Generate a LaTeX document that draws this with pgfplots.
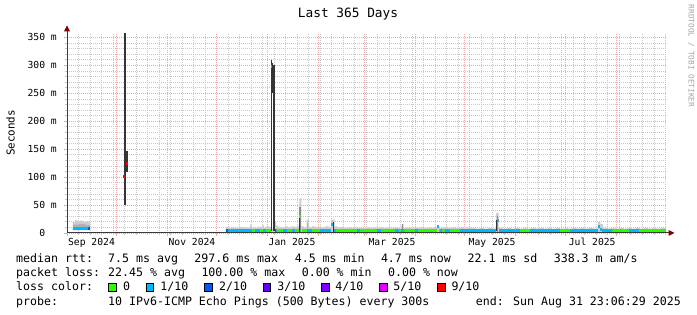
\documentclass[border=0pt]{standalone}
\usepackage{pgfplots}
\pgfplotsset{compat=1.18}
\usepackage{fontspec}
\setmainfont{DejaVu Sans Mono}
\definecolor{lc0}{HTML}{26FF00}
\definecolor{lc1}{HTML}{00B8FF}
\definecolor{lc2}{HTML}{0059FF}
\definecolor{lc3}{HTML}{5E00FF}
\definecolor{lc4}{HTML}{7E00FF}
\definecolor{lc5}{HTML}{DD00FF}
\definecolor{lc9}{HTML}{FF0000}
\definecolor{smokeL}{HTML}{CDCDCD}
\definecolor{smokeL2}{HTML}{B0B0B0}
\definecolor{smokeM}{HTML}{8C8C8C}
\definecolor{smokeD}{HTML}{353535}
\definecolor{mgrid}{HTML}{E8AAAA}
\definecolor{mingrid}{HTML}{C8C8C8}
\definecolor{arrowc}{HTML}{7F0000}
\definecolor{axisc}{HTML}{3A3A3A}
\newcommand\lf{\fontsize{11.6}{12}\selectfont}
\pgfplotsset{rrdframe/.style={
  at={(67pt,82pt)}, anchor=south west,
  scale only axis, width=600pt, height=200pt,
  xmin=0, xmax=365, ymin=0, ymax=358,
  axis lines*=left, axis line style={draw=none},
}}
\begin{document}
\begin{tikzpicture}
\useasboundingbox (0,0) rectangle (697pt,315pt);
% background: weekly minor grid
\begin{axis}[rrdframe,
  xtick={7,14,...,364}, xticklabels={},
  ytick=\empty,
  xmajorgrids=true,
  major grid style={mingrid, dash pattern=on 1pt off 1pt, line width=0.7pt},
  tick align=outside, major tick length=2pt,
  major tick style={mingrid, line width=0.7pt},
]
\end{axis}
\begin{axis}[rrdframe,
  unbounded coords=jump,
  xtick={0,30,61,91,122,153,181,212,242,273,303,334},
  xticklabels={},
  extra x ticks={14.9,76,136.9,197.7,258.6,319.5},
  extra x tick labels={Sep 2024,Nov 2024,Jan 2025,Mar 2025,May 2025,Jul 2025},
  extra x tick style={grid=none, major tick length=0pt},
  ytick={0,50,...,350},
  yticklabels={0\hphantom{ m},50 m,100 m,150 m,200 m,250 m,300 m,350 m},
  minor y tick num=4,
  xmajorgrids=true, ymajorgrids=true, yminorgrids=true,
  major grid style={mgrid, dash pattern=on 1pt off 1pt, line width=0.7pt},
  minor grid style={mingrid, dash pattern=on 1pt off 1pt, line width=0.7pt},
  tick align=outside,
  major tick length=3pt, minor tick length=2pt,
  major tick style={mgrid, line width=0.7pt},
  minor tick style={mingrid, line width=0.7pt},
  tick label style={font=\fontsize{9.7}{10}\selectfont},
  xticklabel style={anchor=north, inner sep=0pt, yshift=-5pt},
  yticklabel style={anchor=east, inner sep=0pt, xshift=-7pt},
]
% long segment smoke (upper edge of ping spread)
\addplot[const plot, fill=smokeL, draw=none] table {
x y
96.7 10
98.5 9
100.5 10
102.5 9
104.5 11
106.5 10
108.5 9
110.5 10
111.2 15
112.0 10
114.0 9
116.0 11
118.0 10
119.0 14
119.8 10
121.5 12
123.0 11
124.0 8
126.3 20
127.2 13
128.5 11
130.5 10
132.5 12
134.5 10
136.5 12
138.5 11
140.5 13
141.4 62
142.6 12
144.0 10
145.8 24
147.2 11
149.0 12
151.0 10
153.0 11
155.0 10
157.0 12
159.0 11
161.0 24
162.8 12
164.5 10
166.5 11
168.5 9
170.5 10
172.5 9
174.5 10
176.5 9
178.5 10
180.5 9
182.5 10
184.5 9
186.5 10
188.5 9
190.5 10
192.5 9
194.5 10
196.5 9
198.5 10
200.5 9
203.6 16
204.8 9
207.0 10
209.0 9
211.0 10
213.0 9
215.0 10
217.0 9
219.0 10
221.0 9
223.0 10
225.0 13
226.2 9
228.5 10
231.0 9
233.5 10
236.0 9
238.5 10
241.0 9
243.5 10
246.0 9
248.5 8
251.0 9
253.5 8
256.0 9
258.5 8
261.0 36
262.6 9
265.0 8
267.5 9
270.0 8
272.5 9
275.0 8
277.5 9
280.0 8
282.5 9
285.0 8
287.5 9
290.0 8
292.5 9
295.0 8
297.5 9
300.0 8
302.5 9
305.0 8
307.5 9
310.0 8
312.5 9
315.0 8
317.5 9
320.0 8
323.0 20
324.5 16
326.0 9
328.5 8
331.0 9
333.5 8
336.0 9
338.5 8
341.0 9
343.5 8
346.0 9
348.5 8
351.0 9
353.5 8
356.0 9
358.5 8
361.0 9
364.4 9
} \closedcycle;
% early segment smoke
\addplot[fill=smokeL, draw=none] coordinates {(3.5,5) (3.5,20) (5,20) (5,23) (6,23) (6,21) (8,21) (8,22) (10,22) (10,20) (12,20) (12,21) (14,21) (14,5)} -- cycle;
\addplot[fill=smokeL2, draw=none] coordinates {(3.5,5) (3.5,15) (7,15) (7,16) (11,16) (11,14) (14,14) (14,5)} -- cycle;
% spike A (early October, 9/10 loss)
\addplot[fill=smokeD, draw=none] coordinates {(34.6,50) (34.6,358) (35.9,358) (35.9,50)} -- cycle;
\addplot[fill=smokeD, draw=none] coordinates {(35.5,110) (35.5,147) (37.1,147) (37.1,110)} -- cycle;
% spike B (end of December)
\addplot[fill=smokeD, draw=none] coordinates {(123.9,3) (123.9,309) (124.9,309) (124.9,3)} -- cycle;
\addplot[fill=smokeD, draw=none] coordinates {(124.9,250) (124.9,305) (125.4,305) (125.4,250)} -- cycle;
\addplot[fill=smokeD, draw=none] coordinates {(125.4,3) (125.4,300) (126.4,300) (126.4,3)} -- cycle;
% spike C
\addplot[fill=smokeM, draw=none] coordinates {(141.4,0) (141.4,47) (142.6,47) (142.6,0)} -- cycle;
\addplot[fill=smokeD, draw=none] coordinates {(141.1,0) (141.1,30) (141.9,30) (141.9,0)} -- cycle;
% spike D
\addplot[fill=smokeL2, draw=none] coordinates {(146.0,0) (146.0,18) (146.8,18) (146.8,0)} -- cycle;
% spike E
\addplot[fill=smokeD, draw=none] coordinates {(161.6,0) (161.6,20) (162.3,20) (162.3,0)} -- cycle;
% spike F
\addplot[fill=smokeM, draw=none] coordinates {(203.6,0) (203.6,16) (204.6,16) (204.6,0)} -- cycle;
% spike H
\addplot[fill=smokeM, draw=none] coordinates {(261.3,0) (261.3,30) (262.4,30) (262.4,0)} -- cycle;
\addplot[fill=smokeD, draw=none] coordinates {(260.7,3) (260.7,24) (261.4,24) (261.4,3)} -- cycle;
% median rtt, colored by loss
\addplot[lc0, line width=3pt] coordinates {
(96.7,4.5) (123.9,4.5) (123.9,nan)
(126.4,4.5) (141.1,4.5) (141.1,nan)
(142.7,4.5) (160.9,4.5) (160.9,nan)
(162.6,4.5) (225.0,4.5) (225.0,nan)
(226.3,4.5) (260.7,4.5) (260.7,nan)
(262.6,4.5) (323.0,4.5) (323.0,nan)
(325.5,4.5) (364.4,4.5)
(364.4,nan) (141.2,29) (142.4,29)
};
\addplot[lc1, line width=3pt] coordinates {
(3.8,7.5) (13.0,7.5) (13.0,nan)
(96.7,4.5) (112.4,4.5) (112.4,nan)
(114.4,4.5) (117.4,4.5) (117.4,nan)
(119.1,4.5) (121.1,4.5) (121.1,nan)
(124.0,297.6) (125.0,297.6) (125.0,nan)
(126.8,4.5) (127.9,4.5) (127.9,nan)
(131.6,4.5) (133.7,4.5) (133.7,nan)
(136.7,4.5) (138.7,4.5) (138.7,nan)
(146.2,4.5) (148.9,4.5) (148.9,nan)
(153.9,4.5) (160.9,4.5) (160.9,nan)
(160.9,16) (161.9,16) (161.9,nan)
(162.6,4.5) (163.6,4.5) (163.6,nan)
(176.4,4.5) (178.2,4.5) (178.2,nan)
(188.6,4.5) (191.0,4.5) (191.0,nan)
(199.5,4.5) (202.0,4.5) (202.0,nan)
(203.2,4.5) (205.0,4.5) (205.0,nan)
(211.7,4.5) (213.5,4.5) (213.5,nan)
(225.1,11) (226.3,11) (226.3,nan)
(227.0,4.5) (228.1,4.5) (228.1,nan)
(230.0,4.5) (233.0,4.5) (233.0,nan)
(239.1,4.5) (260.7,4.5) (260.7,nan)
(261.3,23) (262.5,23) (262.5,nan)
(262.6,4.5) (275.6,4.5) (275.6,nan)
(281.7,4.5) (299.9,4.5) (299.9,nan)
(306.0,4.5) (323.0,4.5) (323.0,nan)
(323.0,11) (324.3,11) (324.3,nan)
(324.3,7) (325.5,7) (325.5,nan)
(325.5,4.5) (331.5,4.5) (331.5,nan)
(341.6,4.5) (347.7,4.5)
};
\addplot[lc2, line width=3pt] coordinates {
(13.0,7.5) (14.0,7.5) (14.0,nan)
(97.0,4.5) (97.8,4.5) (97.8,nan)
(126.4,4.5) (126.9,4.5)
};
\addplot[lc9, line width=3pt] coordinates {
(34.2,102) (35.3,102) (35.3,nan)
(35.8,124) (36.9,124)
};
\end{axis}
% axis lines with arrows
\draw[line width=1pt, axisc] (67pt,82pt) -- (669pt,82pt);
\fill[arrowc] (674.5pt,82pt) -- (668.5pt,85pt) -- (668.5pt,79pt) -- cycle;
\draw[line width=1pt, axisc] (67pt,82pt) -- (67pt,285pt);
\fill[arrowc] (67pt,289.5pt) -- (64pt,283.5pt) -- (70pt,283.5pt) -- cycle;
% title and side texts
\node[anchor=base, inner sep=0pt, font=\fontsize{12.8}{13}\selectfont] at (348pt,297pt) {Last 365 Days};
\node[rotate=90, inner sep=0pt, font=\fontsize{10.9}{11}\selectfont] at (10.5pt,182pt) {Seconds};
\node[rotate=-90, inner sep=0pt, text={rgb,255:red,165;green,165;blue,165}, font=\fontsize{7.7}{8}\selectfont] at (691pt,259pt) {RRDTOOL / TOBI OETIKER};
% legend
\begin{scope}[every node/.style={anchor=base west, inner sep=0pt, font=\lf}]
\node at (16pt,52pt) {median rtt:};
\node at (108pt,52pt) {7.5 ms avg};
\node at (194.2pt,52pt) {297.6 ms max};
\node at (294.6pt,52pt) {4.5 ms min};
\node at (380.8pt,52pt) {4.7 ms now};
\node at (467.4pt,52pt) {22.1 ms sd};
\node at (553.6pt,52pt) {338.3 m am/s};
\node at (16pt,38pt) {packet loss:};
\node at (108pt,38pt) {22.45 \% avg};
\node at (201.3pt,38pt) {100.00 \% max};
\node at (301.6pt,38pt) {0.00 \% min};
\node at (387.9pt,38pt) {0.00 \% now};
\node at (16pt,24pt) {loss color:};
\node at (123pt,24pt) {0};
\node at (160.2pt,24pt) {1/10};
\node at (219pt,24pt) {2/10};
\node at (277.2pt,24pt) {3/10};
\node at (335.2pt,24pt) {4/10};
\node at (393.2pt,24pt) {5/10};
\node at (451.3pt,24pt) {9/10};
\node at (16pt,9.7pt) {probe:};
\node at (108pt,9.7pt) {10 IPv6-ICMP Echo Pings (500 Bytes) every 300s};
\node[anchor=base east] at (681pt,9.7pt) {end: Sun Aug 31 23:06:29 2025};
\end{scope}
\draw[black, line width=0.5pt, fill=lc0] (108.5pt,24pt) rectangle ++(7.5pt,7.5pt);
\draw[black, line width=0.5pt, fill=lc1] (146pt,24pt) rectangle ++(7.5pt,7.5pt);
\draw[black, line width=0.5pt, fill=lc2] (204.5pt,24pt) rectangle ++(7.5pt,7.5pt);
\draw[black, line width=0.5pt, fill=lc3] (263pt,24pt) rectangle ++(7.5pt,7.5pt);
\draw[black, line width=0.5pt, fill=lc4] (321.5pt,24pt) rectangle ++(7.5pt,7.5pt);
\draw[black, line width=0.5pt, fill=lc5] (379.5pt,24pt) rectangle ++(7.5pt,7.5pt);
\draw[black, line width=0.5pt, fill=lc9] (437.5pt,24pt) rectangle ++(7.5pt,7.5pt);
\end{tikzpicture}
\end{document}
